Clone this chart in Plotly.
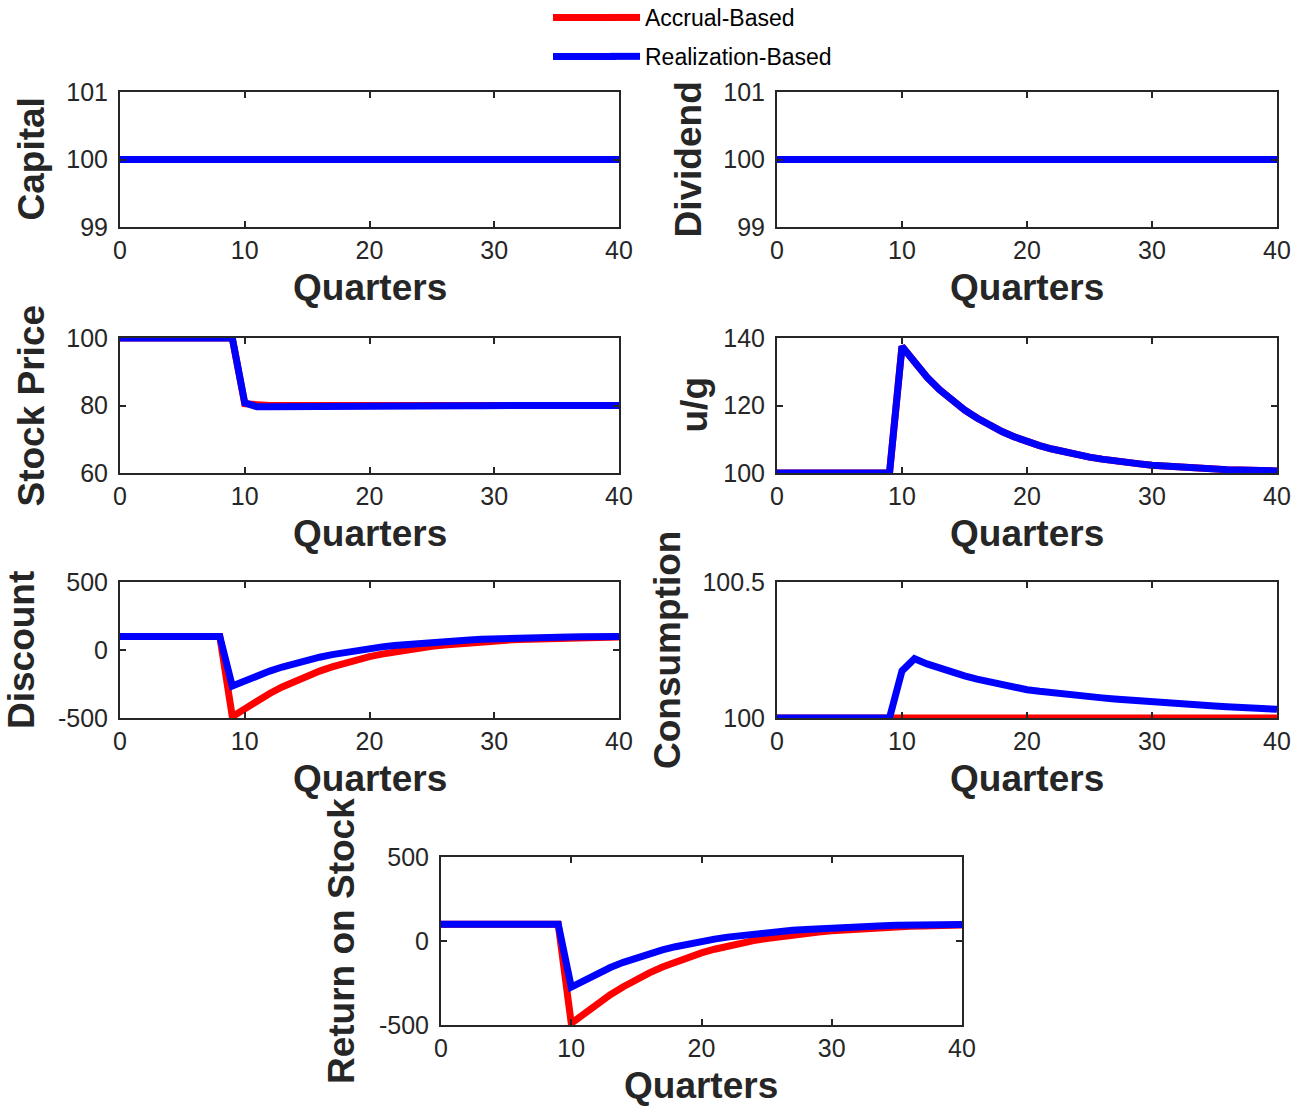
import plotly.graph_objects as go

# ---------------- data ----------------
quarters = [0, 1, 2, 3, 4, 5, 6, 7, 8, 9, 10, 11, 12, 13, 14, 15, 16, 17, 18, 19, 20,
            21, 22, 23, 24, 25, 26, 27, 28, 29, 30, 31, 32, 33, 34, 35, 36, 37, 38, 39, 40]

series_names = ["Accrual-Based", "Realization-Based"]

capital_accrual = [100, 100, 100, 100, 100, 100, 100, 100, 100, 100, 100, 100, 100, 100,
                   100, 100, 100, 100, 100, 100, 100, 100, 100, 100, 100, 100, 100, 100,
                   100, 100, 100, 100, 100, 100, 100, 100, 100, 100, 100, 100, 100]
capital_realization = [100, 100, 100, 100, 100, 100, 100, 100, 100, 100, 100, 100, 100, 100,
                       100, 100, 100, 100, 100, 100, 100, 100, 100, 100, 100, 100, 100, 100,
                       100, 100, 100, 100, 100, 100, 100, 100, 100, 100, 100, 100, 100]

dividend_accrual = [100, 100, 100, 100, 100, 100, 100, 100, 100, 100, 100, 100, 100, 100,
                    100, 100, 100, 100, 100, 100, 100, 100, 100, 100, 100, 100, 100, 100,
                    100, 100, 100, 100, 100, 100, 100, 100, 100, 100, 100, 100, 100]
dividend_realization = [100, 100, 100, 100, 100, 100, 100, 100, 100, 100, 100, 100, 100, 100,
                        100, 100, 100, 100, 100, 100, 100, 100, 100, 100, 100, 100, 100, 100,
                        100, 100, 100, 100, 100, 100, 100, 100, 100, 100, 100, 100, 100]

price_accrual = [100, 100, 100, 100, 100, 100, 100, 100, 100, 100, 80.5, 80.1, 80.0, 80.0,
                 80.0, 80.0, 80.0, 80.0, 80.0, 80.0, 80.0, 80.0, 80.0, 80.0, 80.0, 80.0, 80.0,
                 80.0, 80.0, 80.0, 80.0, 80.0, 80.0, 80.0, 80.0, 80.0, 80.0, 80.0, 80.0, 80.0, 80.0]
price_realization = [100, 100, 100, 100, 100, 100, 100, 100, 100, 100, 80.8, 79.6, 79.65,
                     79.7, 79.72, 79.75, 79.78, 79.8, 79.82, 79.84, 79.86, 79.88, 79.9, 79.91,
                     79.92, 79.93, 79.94, 79.95, 79.96, 79.96, 79.97, 79.97, 79.98, 79.98,
                     79.98, 79.99, 79.99, 79.99, 79.99, 80.0, 80.0]

ug_accrual = [100, 100, 100, 100, 100, 100, 100, 100, 100, 100, 137.5, 132.6, 128.4, 124.7,
              121.5, 118.7, 116.3, 114.2, 112.3, 110.7, 109.3, 108.1, 107.1, 106.2, 105.4,
              104.7, 104.1, 103.5, 103.1, 102.7, 102.3, 102.0, 101.8, 101.5, 101.3, 101.2,
              101.0, 100.9, 100.8, 100.7, 100.6]
ug_realization = [100, 100, 100, 100, 100, 100, 100, 100, 100, 100, 137.5, 132.6, 128.4, 124.7,
                  121.5, 118.7, 116.3, 114.2, 112.3, 110.7, 109.3, 108.1, 107.1, 106.2, 105.4,
                  104.7, 104.1, 103.5, 103.1, 102.7, 102.3, 102.0, 101.8, 101.5, 101.3, 101.2,
                  101.0, 100.9, 100.8, 100.7, 100.6]

discount_accrual = [100, 100, 100, 100, 100, 100, 100, 100, 100, -490, -430, -372, -320, -272,
                    -229, -190, -155, -124, -96, -71, -49, -30, -13, 2, 15, 27, 37, 46, 54,
                    61, 67, 72.5, 77, 81, 84.5, 87.5, 90, 92, 93.8, 95.3, 96.5]
discount_realization = [100, 100, 100, 100, 100, 100, 100, 100, 100, -265, -225, -188, -155,
                        -125, -98, -74, -53, -34, -17, -2, 11, 23, 33, 42, 50, 57, 63.5, 69,
                        74, 78.5, 82.5, 86, 89, 91.5, 93.5, 95, 96.2, 97.2, 98, 98.5, 98.9]

consumption_accrual = [100, 100, 100, 100, 100, 100, 100, 100, 100, 100, 100, 100, 100, 100,
                       100, 100, 100, 100, 100, 100, 100, 100, 100, 100, 100, 100, 100, 100,
                       100, 100, 100, 100, 100, 100, 100, 100, 100, 100, 100, 100, 100]
consumption_realization = [100, 100, 100, 100, 100, 100, 100, 100, 100, 100, 100.173, 100.218,
                           100.199, 100.183, 100.169, 100.155, 100.143, 100.132, 100.121,
                           100.112, 100.104, 100.098, 100.092, 100.087, 100.083, 100.078,
                           100.074, 100.070, 100.066, 100.063, 100.060, 100.056, 100.053,
                           100.050, 100.047, 100.044, 100.041, 100.039, 100.036, 100.034, 100.032]

return_accrual = [100, 100, 100, 100, 100, 100, 100, 100, 100, 100, -490, -430, -372, -320,
                  -272, -229, -190, -155, -124, -96, -71, -49, -30, -13, 2, 15, 27, 37, 46,
                  54, 61, 67, 72.5, 77, 81, 84.5, 87.5, 90, 92, 93.8, 95.3]
return_realization = [100, 100, 100, 100, 100, 100, 100, 100, 100, 100, -274, -232, -193,
                      -158, -127, -99, -74, -53, -34, -17, -2, 11, 23, 33, 42, 50, 57, 63.5,
                      69, 74, 78.5, 82.5, 86, 89, 91.5, 93.5, 95, 96.2, 97.2, 98, 98.5]

x_tickvals = [0, 10, 20, 30, 40]
x_title = "Quarters"

panel_titles = ["Capital", "Dividend", "Stock Price", "u/g", "Discount", "Consumption",
                "Return on Stock"]
panel_ranges = [[99, 101], [99, 101], [60, 100], [100, 140], [-500, 500], [100, 100.5],
                [-500, 500]]
panel_tickvals = [[99, 100, 101], [99, 100, 101], [60, 80, 100], [100, 120, 140],
                  [-500, 0, 500], [100, 100.5], [-500, 0, 500]]
panel_ticktext = [["99", "100", "101"], ["99", "100", "101"], ["60", "80", "100"],
                  ["100", "120", "140"], ["-500", "0", "500"], ["100", "100.5"],
                  ["-500", "0", "500"]]
panel_accrual = [capital_accrual, dividend_accrual, price_accrual, ug_accrual,
                 discount_accrual, consumption_accrual, return_accrual]
panel_realization = [capital_realization, dividend_realization, price_realization,
                     ug_realization, discount_realization, consumption_realization,
                     return_realization]

# ---------------- layout geometry (pixels) ----------------
W, H = 1298, 1106
# plot boxes: (left, right, top, bottom) in pixels
boxes = [
    (120, 619, 92, 227), (777, 1277, 92, 227),
    (120, 619, 338, 473), (777, 1277, 338, 473),
    (120, 619, 582, 718), (777, 1277, 582, 718),
    (441, 962, 857, 1025),
]
# y-title horizontal centre (px)
ytitle_x = [31, 688, 31, 694, 21, 667, 341]

RED = "#FF0000"
BLUE = "#0000FF"
INK = "#262626"
FONT = "Liberation Sans, Arial, Helvetica, sans-serif"
LINE_W = 7

fig = go.Figure()
layout = dict(
    template="none",
    width=W, height=H, autosize=False,
    margin=dict(l=0, r=0, t=0, b=0, pad=0, autoexpand=False),
    paper_bgcolor="white", plot_bgcolor="white",
    font=dict(family=FONT, color=INK, size=25),
    showlegend=True,
    legend=dict(
        x=605 / W, y=1 + 4 / H, xanchor="left", yanchor="top",
        font=dict(family=FONT, size=23, color="#000000"),
        bgcolor="rgba(0,0,0,0)", borderwidth=0, tracegroupgap=6,
    ),
)
annotations = []

for i in range(7):
    ax = "" if i == 0 else str(i + 1)
    l, r, t, b = boxes[i]
    xd = [l / W, r / W]
    yd = [1 - b / H, 1 - t / H]
    for name, data, color, grp in ((series_names[0], panel_accrual[i], RED, "a"),
                                   (series_names[1], panel_realization[i], BLUE, "b")):
        fig.add_trace(go.Scatter(
            x=quarters, y=data, mode="lines", name=name,
            line=dict(color=color, width=LINE_W),
            xaxis="x" + ax, yaxis="y" + ax,
            legendgroup=grp, showlegend=(i == 0),
        ))
    common = dict(
        showline=True, linewidth=2, linecolor=INK, mirror="allticks",
        ticks="inside", ticklen=6, tickwidth=2, tickcolor=INK,
        showgrid=False, zeroline=False, automargin=False,
        tickfont=dict(family=FONT, size=25, color=INK),
    )
    layout["xaxis" + ax] = dict(
        domain=xd, anchor="y" + ax, range=[0, 40], tickmode="array",
        tickvals=x_tickvals, **common)
    layout["yaxis" + ax] = dict(
        domain=yd, anchor="x" + ax, range=panel_ranges[i], tickmode="array",
        tickvals=panel_tickvals[i], ticktext=panel_ticktext[i],
        ticklabelstandoff=5, **common)
    # y title
    annotations.append(dict(
        text="<b>" + panel_titles[i] + "</b>", xref="paper", yref="paper",
        x=ytitle_x[i] / W, y=1 - ((t + b) / 2) / H, xanchor="center", yanchor="middle",
        textangle=-90, showarrow=False,
        font=dict(family=FONT, size=37, color=INK)))
    # x title
    annotations.append(dict(
        text="<b>" + x_title + "</b>", xref="paper", yref="paper",
        x=((l + r) / 2) / W, y=1 - (b + 60) / H, xanchor="center", yanchor="middle",
        showarrow=False,
        font=dict(family=FONT, size=37, color=INK)))

# extend the legend swatches to the long strokes of the reference legend
legend_rows_px = [17.5, 56.4]
shapes = []
for ypx, color in zip(legend_rows_px, (RED, BLUE)):
    shapes.append(dict(type="line", xref="paper", yref="paper",
                       x0=553 / W, x1=616 / W, y0=1 - ypx / H, y1=1 - ypx / H,
                       line=dict(color=color, width=LINE_W)))

layout["annotations"] = annotations
layout["shapes"] = shapes
fig.update_layout(**layout)
fig.write_html("out.html")
